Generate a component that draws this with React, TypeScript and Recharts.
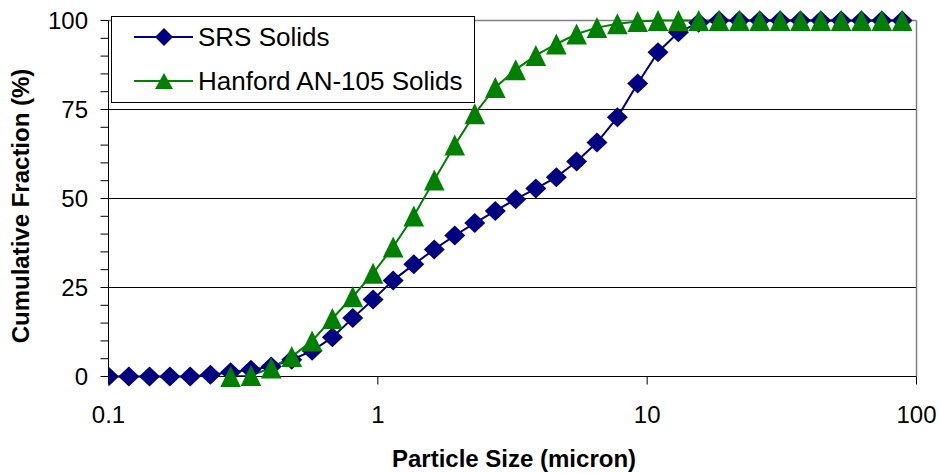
import { LineChart, Line, XAxis, YAxis, ReferenceLine, Legend, Label } from 'recharts';

// particle size channels (micron)
const sizes = [
  0.1, 0.119, 0.142, 0.169, 0.201, 0.239, 0.284, 0.338, 0.402, 0.479,
  0.57, 0.678, 0.807, 0.96, 1.14, 1.36, 1.62, 1.93, 2.29, 2.73,
  3.25, 3.86, 4.6, 5.47, 6.51, 7.75, 9.22, 10.97, 13.06, 15.54,
  18.49, 22.0, 26.18, 31.16, 37.08, 44.12, 52.5, 62.47, 74.34, 88.46,
];

const srsSolids = [
  0, 0, 0, 0, 0, 0.5, 1.2, 1.9, 2.8, 4.7,
  7.2, 11.0, 16.4, 21.6, 27.0, 31.5, 35.7, 39.6, 43.1, 46.5,
  49.8, 52.8, 56.0, 60.4, 65.7, 72.8, 82.3, 91.1, 96.7, 99.4,
  100, 100, 100, 100, 100, 100, 100, 100, 100, 100,
];

const hanfordSolids: (number | null)[] = [
  null, null, null, null, null, null, 0, 0.3, 2.4, 5.6,
  10.0, 16.3, 22.4, 29.0, 36.4, 45.1, 55.2, 65.0, 73.8, 81.2,
  86.2, 90.2, 93.4, 96.2, 98.0, 99.1, 99.7, 100, 100, 100,
  100, 100, 100, 100, 100, 100, 100, 100, 100, 100,
];

const xTicks = [0.1, 1, 10, 100];
const yTicks = [0, 5, 10, 15, 20, 25, 30, 35, 40, 45, 50, 55, 60, 65, 70, 75, 80, 85, 90, 95, 100];
const gridValues = [25, 50, 75];

const SRS_COLOR = '#000080';
const HANFORD_COLOR = '#008000';
const FONT = '"Liberation Sans", Arial, sans-serif';

const data = sizes.map((size, i) => ({
  size,
  srs: srsSolids[i],
  hanford: hanfordSolids[i],
}));

function renderDiamond(props: any) {
  const { cx, cy, index } = props;
  if (cx == null || cy == null) return <g key={`d-${index}`} />;
  return (
    <polygon
      key={`d-${index}`}
      points={`${cx},${cy - 10} ${cx + 10.5},${cy} ${cx},${cy + 10} ${cx - 10.5},${cy}`}
      fill={SRS_COLOR}
    />
  );
}

function renderTriangle(props: any) {
  const { cx, cy, index } = props;
  if (cx == null || cy == null) return <g key={`t-${index}`} />;
  return (
    <polygon
      key={`t-${index}`}
      points={`${cx},${cy - 10.5} ${cx + 10.3},${cy + 10.5} ${cx - 10.3},${cy + 10.5}`}
      fill={HANFORD_COLOR}
    />
  );
}

function XTick(props: any) {
  const { x, y, payload } = props;
  return (
    <text x={x} y={y + 36} textAnchor="middle" fontSize={24} fontFamily={FONT} fill="#000">
      {payload.value}
    </text>
  );
}

function YTick(props: any) {
  const { x, y, payload } = props;
  if (payload.value % 25 !== 0) return <g />;
  return (
    <text x={x} y={y} dy="0.35em" textAnchor="end" fontSize={24} fontFamily={FONT} fill="#000">
      {payload.value}
    </text>
  );
}

const legendItems = [
  { name: 'SRS Solids', color: SRS_COLOR, shape: 'diamond', top: 7 },
  { name: 'Hanford AN-105 Solids', color: HANFORD_COLOR, shape: 'triangle', top: 51 },
];

function LegendBox() {
  return (
    <div
      style={{
        position: 'relative',
        width: 364,
        height: 87,
        boxSizing: 'border-box',
        border: '1px solid #000',
        background: '#fff',
        fontFamily: FONT,
        fontSize: 26,
        color: '#000',
      }}
    >
      {legendItems.map((item) => (
        <div
          key={item.name}
          style={{ position: 'absolute', left: 0, top: item.top, height: 26, display: 'flex', alignItems: 'center' }}
        >
          <svg width={84} height={26} style={{ display: 'block' }}>
            <line x1={22} y1={13} x2={81} y2={13} stroke={item.color} strokeWidth={2} />
            {item.shape === 'diamond' ? (
              <polygon points="52,4 61,13 52,22 43,13" fill={item.color} />
            ) : (
              <polygon points="52,5 61,21 43,21" fill={item.color} />
            )}
          </svg>
          <span style={{ marginLeft: 2, lineHeight: '26px', whiteSpace: 'nowrap' }}>{item.name}</span>
        </div>
      ))}
    </div>
  );
}

export default function App() {
  return (
    <div style={{ position: 'absolute', left: 0, top: 0, width: 940, height: 473, background: '#fff' }}>
      <LineChart
        width={940}
        height={473}
        data={data}
        margin={{ top: 20.5, right: 23.5, bottom: 0, left: 0 }}
        style={{ fontFamily: FONT }}
      >
        {gridValues.map((v) => (
          <ReferenceLine key={v} y={v} stroke="#000" strokeWidth={1} />
        ))}
        <ReferenceLine y={100} stroke="#808080" strokeWidth={1.5} />
        <ReferenceLine x={100} stroke="#808080" strokeWidth={1.5} />
        <XAxis
          dataKey="size"
          type="number"
          scale="log"
          domain={[0.1, 100]}
          ticks={xTicks}
          allowDataOverflow
          height={96.5}
          tickSize={8}
          tickMargin={2}
          stroke="#000"
          tickLine={{ stroke: '#000' }}
          tick={<XTick />}
          interval={0}
        >
          <Label
            content={() => (
              <text x={514} y={467} textAnchor="middle" fontSize={24} fontWeight="bold" fontFamily={FONT} fill="#000">
                Particle Size (micron)
              </text>
            )}
          />
        </XAxis>
        <YAxis
          type="number"
          domain={[0, 100]}
          ticks={yTicks}
          width={108.5}
          tickSize={8}
          tickMargin={12.5}
          stroke="#000"
          tickLine={{ stroke: '#000' }}
          tick={<YTick />}
          interval={0}
        >
          <Label
            content={() => (
              <text
                x={29}
                y={206}
                transform="rotate(-90, 29, 206)"
                textAnchor="middle"
                fontSize={24}
                fontWeight="bold"
                fontFamily={FONT}
                fill="#000"
              >
                Cumulative Fraction (%)
              </text>
            )}
          />
        </YAxis>
        <Line
          dataKey="srs"
          name="SRS Solids"
          stroke={SRS_COLOR}
          strokeWidth={2}
          dot={renderDiamond}
          activeDot={false}
          isAnimationActive={false}
        />
        <Line
          dataKey="hanford"
          name="Hanford AN-105 Solids"
          stroke={HANFORD_COLOR}
          strokeWidth={2}
          dot={renderTriangle}
          activeDot={false}
          isAnimationActive={false}
        />
        <Legend
          layout="horizontal"
          verticalAlign="middle"
          align="center"
          wrapperStyle={{ position: 'absolute', left: 111, top: 16, width: 364, height: 87, margin: 0, padding: 0 }}
          content={() => <LegendBox />}
        />
      </LineChart>
    </div>
  );
}
